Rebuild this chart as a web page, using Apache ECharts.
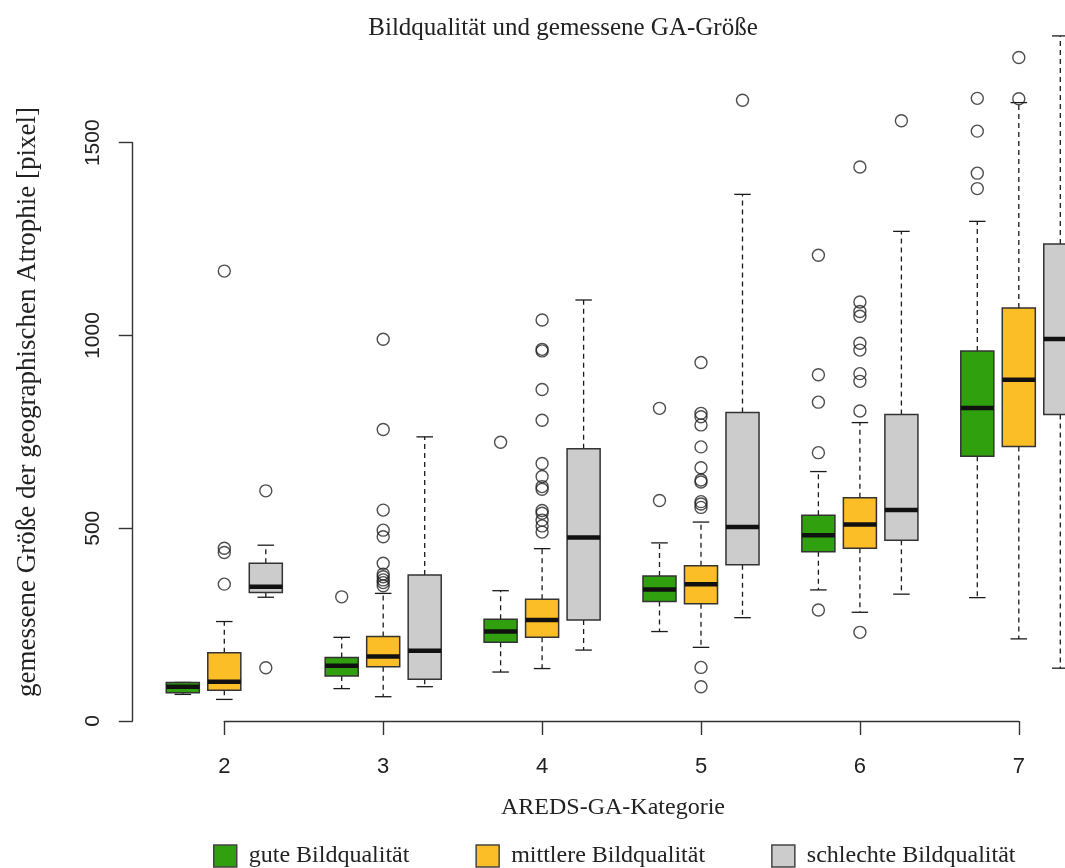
<!DOCTYPE html>
<html><head><meta charset="utf-8">
<script src="https://cdn.jsdelivr.net/npm/echarts@6/dist/echarts.min.js"></script>
<style>html,body{margin:0;padding:0;background:#fff}#c{width:1065px;height:868px}</style>
</head><body><div id="c"></div>
<script>
// ---- data ----
const categories = ['2', '3', '4', '5', '6', '7'];
const groupNames = ['gute Bildqualität', 'mittlere Bildqualität', 'schlechte Bildqualität'];
const yTicks = [0, 500, 1000, 1500];

// [whisker low, Q1, median, Q3, whisker high] per category
const goodStats = [
  [69, 73, 89, 100, 100],
  [84, 117, 143, 165, 217],
  [127, 204, 232, 264, 338],
  [232, 310, 341, 376, 462],
  [340, 439, 482, 534, 647],
  [320, 687, 812, 960, 1296]
];
const midStats = [
  [56, 80, 102, 177, 258],
  [63, 141, 167, 219, 331],
  [136, 217, 262, 316, 447],
  [191, 304, 355, 403, 516],
  [282, 448, 510, 579, 774],
  [213, 712, 885, 1071, 1604]
];
const badStats = [
  [321, 333, 348, 409, 456],
  [89, 108, 182, 379, 737],
  [184, 262, 476, 706, 1092],
  [268, 405, 503, 800, 1366],
  [329, 469, 547, 795, 1270],
  [137, 795, 991, 1237, 1777]
];

// outliers per category
const goodOut = [
  [],
  [322],
  [723],
  [811, 572],
  [1208, 898, 827, 696, 288],
  [1615, 1530, 1421, 1381]
];
const midOut = [
  [1167, 448, 437, 355],
  [990, 756, 547, 495, 478, 409, 381, 374, 366, 359, 351],
  [1040, 964, 960, 860, 780, 668, 634, 608, 601, 546, 539, 521, 506, 490],
  [930, 798, 789, 768, 711, 657, 625, 620, 569, 563, 554, 139, 89],
  [1437, 1087, 1062, 1050, 980, 962, 901, 881, 804, 230],
  [1614, 1721]
];
const badOut = [
  [597, 138],
  [],
  [],
  [1610],
  [1557],
  []
];

// ---- style / layout ----
const colors = ['#31a00f', '#fcbe26', '#cccccc'];
const GROUP_SHIFT = [-0.2612, 0, 0.2612]; // in category units
const BOX_FRAC = 0.208, CAP_FRAC = 0.104;
const serif = '"Liberation Serif", "Times New Roman", serif';
const sans = '"Liberation Sans", Arial, sans-serif';

const statsAll = [goodStats, midStats, badStats];
const outAll = [goodOut, midOut, badOut];

function makeRender(gi) {
  return function (params, api) {
    const xc = api.value(0) + GROUP_SHIFT[gi];
    const unit = api.size([1, 0])[0];
    const bw = unit * BOX_FRAC, cw = unit * CAP_FRAC;
    const px = api.coord([xc, api.value(3)])[0];
    const y = i => api.coord([xc, api.value(i)])[1];
    const yMin = y(1), yQ1 = y(2), yMed = y(3), yQ3 = y(4), yMax = y(5);
    const dash = { stroke: '#1a1a1a', lineWidth: 1.3, lineDash: [5, 4] };
    const solid = { stroke: '#1a1a1a', lineWidth: 1.3 };
    return {
      type: 'group', children: [
        { type: 'line', shape: { x1: px, y1: yQ3, x2: px, y2: yMax }, style: dash },
        { type: 'line', shape: { x1: px, y1: yQ1, x2: px, y2: yMin }, style: dash },
        { type: 'line', shape: { x1: px - cw / 2, y1: yMax, x2: px + cw / 2, y2: yMax }, style: solid },
        { type: 'line', shape: { x1: px - cw / 2, y1: yMin, x2: px + cw / 2, y2: yMin }, style: solid },
        { type: 'rect', shape: { x: px - bw / 2, y: yQ3, width: bw, height: yQ1 - yQ3 },
          style: { fill: colors[gi], stroke: '#333', lineWidth: 1.5 } },
        { type: 'line', shape: { x1: px - bw / 2, y1: yMed, x2: px + bw / 2, y2: yMed },
          style: { stroke: '#111', lineWidth: 4.5 } }
      ]
    };
  };
}

const series = [];
statsAll.forEach((stats, gi) => {
  series.push({
    name: groupNames[gi],
    type: 'custom',
    clip: false,
    renderItem: makeRender(gi),
    itemStyle: { color: colors[gi], borderColor: '#444', borderWidth: 1.5 },
    encode: { x: 0, y: [1, 2, 3, 4, 5] },
    data: categories.map((c, i) => [Number(c)].concat(stats[i]))
  });
});
outAll.forEach((outs, gi) => {
  const pts = [];
  categories.forEach((c, i) => outs[i].forEach(v => pts.push([Number(c) + GROUP_SHIFT[gi], v])));
  series.push({
    name: groupNames[gi] + ' (Ausreißer)',
    type: 'scatter',
    clip: false,
    symbol: 'circle',
    symbolSize: 12,
    itemStyle: { color: 'rgba(0,0,0,0)', borderColor: '#222', borderWidth: 1.4 },
    data: pts
  });
});

const chart = echarts.init(document.getElementById('c'), null, { renderer: 'canvas' });
chart.setOption({
  backgroundColor: '#fff',
  animation: false,
  title: {
    text: 'Bildqualität und gemessene GA-Größe',
    left: 558, textAlign: 'center', top: 11,
    textStyle: { fontFamily: serif, fontSize: 25, fontWeight: 'normal', color: '#222' }
  },
  grid: { left: 224.3, right: 46.2, top: 142.7, bottom: 147, outerBoundsMode: 'none' },
  xAxis: {
    type: 'value', min: Number(categories[0]), max: Number(categories[categories.length - 1]), interval: 1,
    offset: 6.3,
    axisLine: { show: true, lineStyle: { color: '#333', width: 1.4 } },
    axisTick: { show: true, length: 14, lineStyle: { color: '#333', width: 1.4 } },
    axisLabel: { margin: 29, fontFamily: sans, fontSize: 22, color: '#222',
      formatter: v => categories.indexOf(String(v)) >= 0 ? String(v) : '' },
    splitLine: { show: false }
  },
  yAxis: {
    type: 'value', min: yTicks[0], max: yTicks[yTicks.length - 1], interval: yTicks[1] - yTicks[0],
    offset: 91.6,
    axisLine: { show: true, lineStyle: { color: '#333', width: 1.4 } },
    axisTick: { show: true, length: 14, lineStyle: { color: '#333', width: 1.4 } },
    axisLabel: { rotate: 90, margin: 29, fontFamily: sans, fontSize: 21, color: '#222',
      formatter: v => String(v) },
    splitLine: { show: false }
  },
  legend: {
    data: groupNames.map((n, i) => ({ name: n, icon: 'rect',
      itemStyle: { color: colors[i], borderColor: '#444', borderWidth: 1.5 } })),
    left: 208, top: 839, itemWidth: 23, itemHeight: 22, itemGap: 66,
    selectedMode: false,
    textStyle: { fontFamily: serif, fontSize: 24, color: '#222', padding: [0, 0, 0, 7] }
  },
  graphic: [
    { type: 'text', x: 613, y: 808,
      style: { text: 'AREDS-GA-Kategorie', fontFamily: serif, fontSize: 24, fill: '#222',
        align: 'center', verticalAlign: 'middle' } },
    { type: 'text', x: 28, y: 402, rotation: Math.PI / 2,
      style: { text: 'gemessene Größe der geographischen Atrophie [pixel]', fontFamily: serif, fontSize: 27,
        fill: '#222', align: 'center', verticalAlign: 'middle' } }
  ],
  series: series
});
</script>
</body></html>
